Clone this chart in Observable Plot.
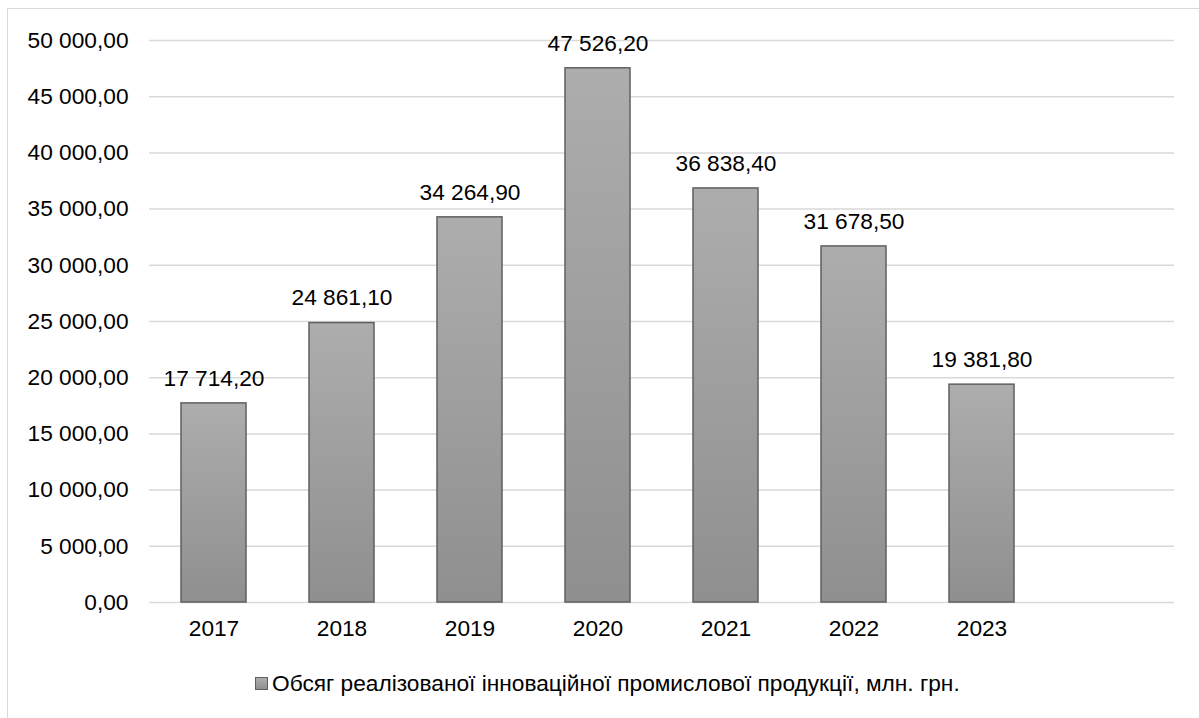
<!DOCTYPE html>
<html>
<head>
<meta charset="utf-8">
<script src="https://cdn.jsdelivr.net/npm/d3@7"></script>
<script src="https://cdn.jsdelivr.net/npm/@observablehq/plot@0.6"></script>
<style>
  html, body { margin: 0; padding: 0; background: #fff; }
  #wrap { position: relative; width: 1199px; height: 718px; overflow: hidden; font-family: "Liberation Sans", Arial, sans-serif; }
  #frame { position: absolute; left: 7px; top: 8px; width: 1210px; height: 730px; border: 1.5px solid #d9d9d9; box-sizing: border-box; }
  #chart { position: absolute; left: 0; top: 0; }
  #legend { position: absolute; left: 255px; top: 670px; display: flex; align-items: center; font-size: 22.7px; color: #000; white-space: nowrap; }
  #legend .sw { width: 11px; height: 11px; border: 1.5px solid #5f5f5f; background: linear-gradient(#adadad, #8f8f8f); margin-right: 4px; }
</style>
</head>
<body>
<div id="wrap">
  <div id="frame"></div>
  <div id="chart"></div>
  <div id="legend"><span class="sw"></span><span id="legtext"></span></div>
</div>
<script>
const years = ["2017", "2018", "2019", "2020", "2021", "2022", "2023"];
const values = [17714.2, 24861.1, 34264.9, 47526.2, 36838.4, 31678.5, 19381.8];
const yTicks = [0, 5000, 10000, 15000, 20000, 25000, 30000, 35000, 40000, 45000, 50000];
const seriesName = "Обсяг реалізованої інноваційної промислової продукції, млн. грн.";

const data = years.map((y, i) => ({year: y, value: values[i]}));
const loc = d3.formatLocale({decimal: ",", thousands: "\u00a0", grouping: [3], currency: ["", ""]});
const fmt = loc.format(",.2f");
const FS = 22.7;

const plot = Plot.plot({
  width: 1199,
  height: 660,
  marginLeft: 149,
  marginRight: 25,
  marginTop: 40,
  marginBottom: 58,
  style: {fontFamily: "Liberation Sans, Arial, sans-serif", fontSize: FS + "px", color: "#000", background: "transparent"},
  x: {domain: [...years, "_"], paddingInner: 0.49, paddingOuter: 0.245, label: null},
  y: {domain: [0, 50000], label: null},
  marks: [
    Plot.gridY(yTicks, {stroke: "#d9d9d9", strokeWidth: 1.5, strokeOpacity: 1}),
    Plot.axisY(yTicks, {tickSize: 0, tickPadding: 21, tickFormat: fmt, fontSize: FS}),
    Plot.axisX(years, {tickSize: 0, tickPadding: 17, fontSize: FS}),
    Plot.barY(data, {x: "year", y: "value", fill: "url(#barGrad)", stroke: "#5f5f5f", strokeWidth: 1.5}),
    Plot.text(data, {x: "year", y: "value", text: d => fmt(d.value), dy: -25, fontSize: FS, fill: "#000"})
  ]
});

const defs = d3.select(plot).insert("defs", ":first-child");
const g = defs.append("linearGradient").attr("id", "barGrad").attr("x1", 0).attr("y1", 0).attr("x2", 0).attr("y2", 1);
g.append("stop").attr("offset", "0%").attr("stop-color", "#adadad");
g.append("stop").attr("offset", "100%").attr("stop-color", "#8f8f8f");

document.getElementById("chart").appendChild(plot);
document.getElementById("legtext").textContent = seriesName;
</script>
</body>
</html>
